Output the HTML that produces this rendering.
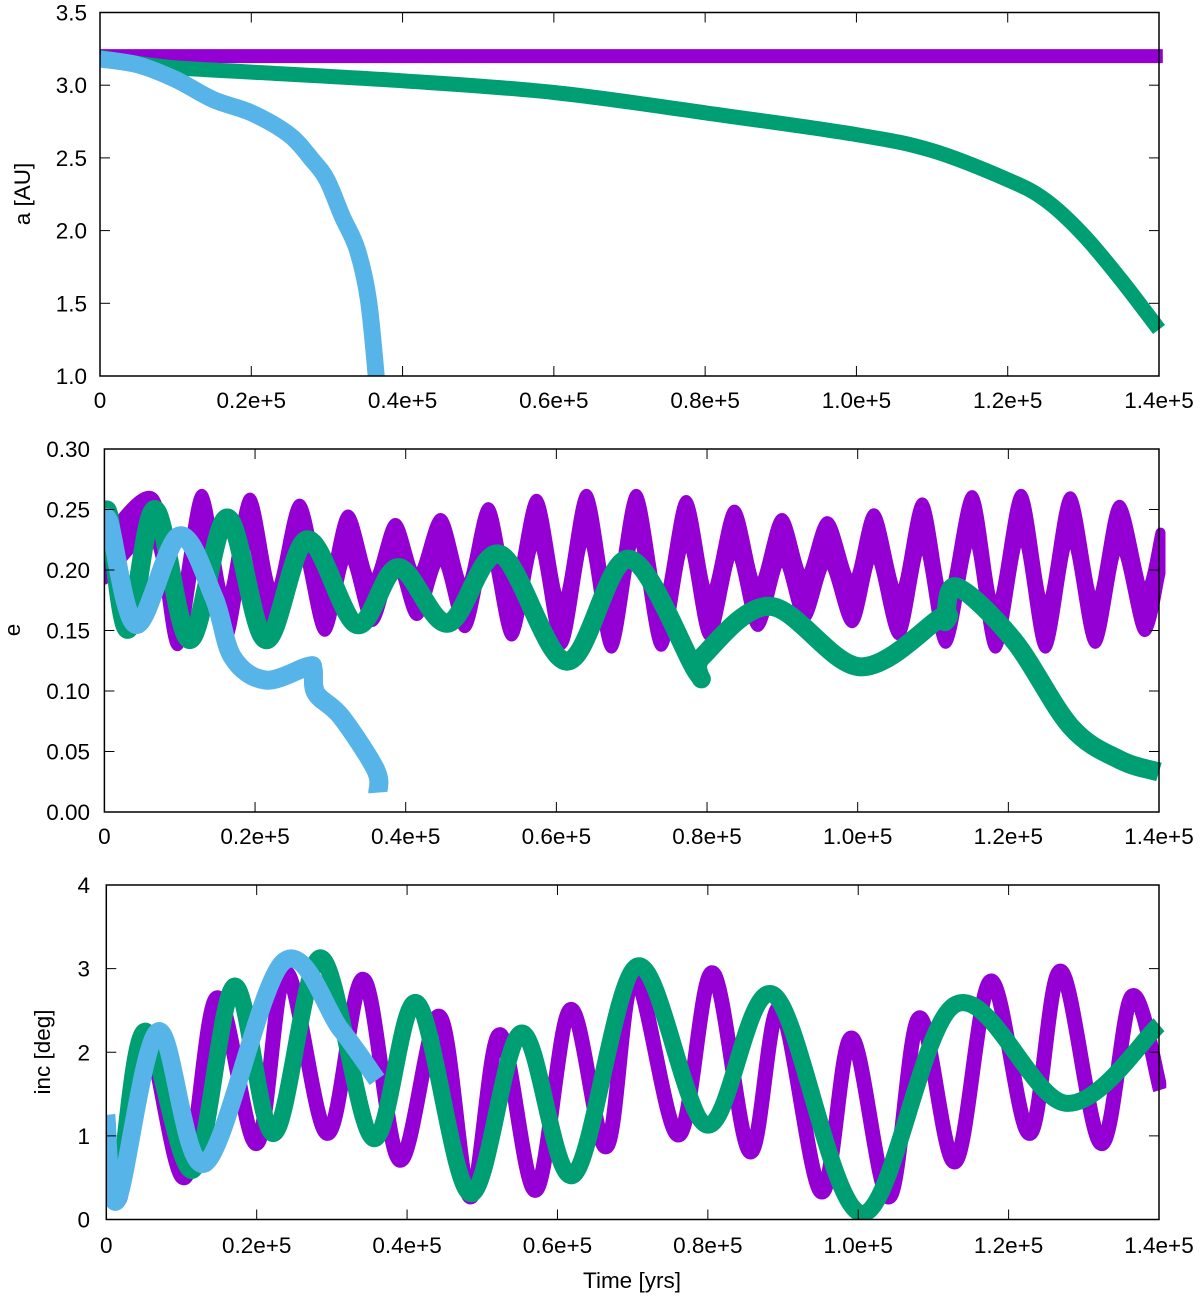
<!DOCTYPE html>
<html><head><meta charset="utf-8">
<style>
html,body{margin:0;padding:0;background:#fff;}
svg{display:block;}
text{font-family:"Liberation Sans",Arial,sans-serif;font-size:22.5px;fill:#000;}
</style></head>
<body>
<svg id="chart" width="1200" height="1298" viewBox="0 0 1200 1298" xmlns="http://www.w3.org/2000/svg">
<defs>
<clipPath id="clip1"><rect x="100" y="0" width="1068" height="376"/></clipPath>
<clipPath id="clip2"><rect x="104.4" y="449" width="1062" height="363"/></clipPath>
<clipPath id="clip3"><rect x="106.3" y="885" width="1060" height="334.5"/></clipPath>
</defs>
<g id="layer"></g>
</svg>
<script>
// ---------- Data (time in kyr) ----------
const xTickValues = [0, 20, 40, 60, 80, 100, 120, 140];
const xTickLabels = ["0", "0.2e+5", "0.4e+5", "0.6e+5", "0.8e+5", "1.0e+5", "1.2e+5", "1.4e+5"];
const aTickValues = [1.0, 1.5, 2.0, 2.5, 3.0, 3.5];
const aTickLabels = ["1.0", "1.5", "2.0", "2.5", "3.0", "3.5"];
const eTickValues = [0, 0.05, 0.10, 0.15, 0.20, 0.25, 0.30];
const eTickLabels = ["0.00", "0.05", "0.10", "0.15", "0.20", "0.25", "0.30"];
const iTickValues = [0, 1, 2, 3, 4];
const iTickLabels = ["0", "1", "2", "3", "4"];

const aPurpleT = [0, 35, 70, 105, 140.5];
const aPurpleV = [3.2, 3.2, 3.2, 3.2, 3.2];
const aGreenT = [0, 5, 10, 20, 40, 60, 80, 100, 110, 120, 125, 130, 135, 140];
const aGreenV = [3.19, 3.15, 3.12, 3.09, 3.03, 2.95, 2.81, 2.66, 2.55, 2.35, 2.21, 1.97, 1.66, 1.32];
const aBlueT = [0, 5, 10, 15, 20, 25, 28, 30, 32, 34, 35.5, 36.6];
const aBlueV = [3.18, 3.14, 3.04, 2.9, 2.81, 2.66, 2.49, 2.35, 2.1, 1.87, 1.52, 0.95];

// purple e: upper envelope of the band
const ePurpleT = [0, 6.5, 9.7, 12.9, 16.1, 19.3, 22.5, 25.9, 29.2, 32.3, 35.5, 38.6, 41.5, 44.7, 47.9, 51, 54.1, 57.4, 60.7, 64, 67.3, 70.6, 73.9, 77.2, 80.3, 83.6, 86.7, 89.9, 92.9, 96, 99.3, 102.2, 105.5, 108.6, 111.7, 115.2, 118.3, 121.7, 124.9, 128.2, 131.5, 134.7, 138, 140.2];
const ePurpleV = [0.23, 0.264, 0.175, 0.267, 0.18, 0.264, 0.185, 0.259, 0.187, 0.25, 0.195, 0.243, 0.2, 0.247, 0.19, 0.256, 0.183, 0.263, 0.176, 0.267, 0.173, 0.267, 0.1745, 0.262, 0.183, 0.254, 0.191, 0.247, 0.198, 0.2445, 0.194, 0.251, 0.184, 0.26, 0.177, 0.266, 0.173, 0.267, 0.173, 0.265, 0.177, 0.258, 0.187, 0.235];
const eGreenT = [0, 0.6, 3.1, 6.7, 11.3, 16.3, 21.4, 26.9, 33.5, 39, 45.6, 52.5, 61.4, 69.6, 78.7, 79.3, 88.4, 100.3, 111.2, 111.6, 113.1, 120.7, 128.3, 134.9, 140];
const eGreenV = [0.235, 0.245, 0.151, 0.25, 0.1425, 0.243, 0.1425, 0.225, 0.155, 0.202, 0.156, 0.213, 0.1246, 0.209, 0.115, 0.128, 0.17, 0.12, 0.1616, 0.158, 0.186, 0.142, 0.0704, 0.0428, 0.0331];
const eBlueT = [0, 0.6, 4.2, 9.9, 14.5, 17, 21.4, 26.9, 27.7, 28.1, 31.4, 36, 36.3];
const eBlueV = [0.225, 0.24, 0.155, 0.228, 0.178, 0.128, 0.109, 0.12, 0.118, 0.098, 0.079, 0.035, 0.016];

const iPurpleT = [0, 1.8, 5.1, 10.4, 14.7, 20, 23.9, 29.4, 34.2, 39, 44.3, 48.4, 52.3, 57.1, 61.7, 66.5, 70.2, 76.1, 80.6, 85.6, 89.6, 95.1, 99.1, 104.1, 108.1, 112.9, 117.6, 122.8, 126.9, 132.3, 136.4, 140.2];
const iPurpleV = [1.2, 0.25, 2.25, 0.5, 2.65, 0.91, 2.95, 1.03, 2.87, 0.71, 2.43, 0.27, 2.21, 0.35, 2.51, 0.87, 2.9, 1.01, 2.95, 0.81, 2.53, 0.33, 2.17, 0.27, 2.41, 0.69, 2.85, 1.03, 2.97, 0.91, 2.67, 1.55];
const iGreenT = [0, 1.45, 5.1, 11.5, 17, 22.3, 28.5, 35.5, 41.3, 48.4, 55.2, 62.1, 70.6, 79.9, 88.7, 100.5, 112.9, 127.6, 140];
const iGreenV = [1.1, 0.3, 2.25, 0.59, 2.79, 1.03, 3.13, 0.97, 2.59, 0.31, 2.23, 0.53, 3.03, 1.13, 2.69, 0.07, 2.57, 1.39, 2.33];
const iBlueT = [0, 1.45, 6.9, 13.1, 23.4, 31.2, 36];
const iBlueV = [1.25, 0.23, 2.25, 0.67, 3.07, 2.27, 1.67];

// ---------- Rendering ----------
const NS = "http://www.w3.org/2000/svg";
const layer = document.getElementById("layer");
const COL = {purple: "#9400d3", green: "#009e73", blue: "#56b4e9"};
const panels = [
  {id: 1, L: 100, R: 1159, T: 12.5, B: 376, ymin: 1, ymax: 3.5, labY: 400, ticks: aTickValues, labels: aTickLabels, labX: 87},
  {id: 2, L: 104.4, R: 1159, T: 449, B: 812, ymin: 0, ymax: 0.3, labY: 836, ticks: eTickValues, labels: eTickLabels, labX: 90},
  {id: 3, L: 106.3, R: 1159, T: 885, B: 1219.5, ymin: 0, ymax: 4, labY: 1245, ticks: iTickValues, labels: iTickLabels, labX: 90}
];
function xs(p, t) { return p.L + (t / 140) * (p.R - p.L); }
function ys(p, v) { return p.B - (v - p.ymin) / (p.ymax - p.ymin) * (p.B - p.T); }
function mk(tag, attrs) { const e = document.createElementNS(NS, tag); for (const k in attrs) e.setAttribute(k, attrs[k]); return e; }
function crPath(pts, move) {
  let d = move ? "M" + pts[0][0].toFixed(1) + "," + pts[0][1].toFixed(1) : "L" + pts[0][0].toFixed(1) + "," + pts[0][1].toFixed(1);
  for (let i = 0; i < pts.length - 1; i++) {
    const p0 = pts[Math.max(0, i - 1)], p1 = pts[i], p2 = pts[i + 1], p3 = pts[Math.min(pts.length - 1, i + 2)];
    const c1x = p1[0] + (p2[0] - p0[0]) / 6, c1y = p1[1] + (p2[1] - p0[1]) / 6;
    const c2x = p2[0] - (p3[0] - p1[0]) / 6, c2y = p2[1] - (p3[1] - p1[1]) / 6;
    d += " C" + c1x.toFixed(1) + "," + c1y.toFixed(1) + " " + c2x.toFixed(1) + "," + c2y.toFixed(1) + " " + p2[0].toFixed(1) + "," + p2[1].toFixed(1);
  }
  return d;
}
function series(p, T, V, color, w, name) {
  const pts = T.map((t, i) => [xs(p, t), ys(p, V[i])]);
  const path = mk("path", {d: crPath(pts, true), fill: "none", stroke: color, "stroke-width": w, "stroke-linejoin": "round", "stroke-linecap": "butt", "clip-path": "url(#clip" + p.id + ")"});
  
  
  layer.appendChild(path);
}
function band(p, T, V, off, color, name) {
  const up = T.map((t, i) => [xs(p, t), ys(p, V[i]) + 5]);
  const lo = T.map((t, i) => [xs(p, t), ys(p, V[i] - off)]).reverse();
  const d = crPath(up, true) + " " + crPath(lo, false) + " Z";
  const path = mk("path", {d: d, fill: color, stroke: color, "stroke-width": 10, "stroke-linejoin": "round", "clip-path": "url(#clip" + p.id + ")"});
  
  
  layer.appendChild(path);
}
function axes(p) {
  const g = mk("g", {});
  
  
  const frame = mk("rect", {x: p.L, y: p.T, width: p.R - p.L, height: p.B - p.T, fill: "none", stroke: "#000", "stroke-width": 1.5});
  
  
  g.appendChild(frame);
  xTickValues.forEach((t, i) => {
    const x = xs(p, t);
    if (i > 0 && i < xTickValues.length - 1) {
      g.appendChild(mk("line", {x1: x, x2: x, y1: p.B, y2: p.B - 10, stroke: "#000", "stroke-width": 1}));
      g.appendChild(mk("line", {x1: x, x2: x, y1: p.T, y2: p.T + 10, stroke: "#000", "stroke-width": 1}));
    }
    const tx = mk("text", {x: x, y: p.labY + 8, "text-anchor": "middle"});
    tx.textContent = xTickLabels[i];
    
    
    g.appendChild(tx);
  });
  p.ticks.forEach((v, i) => {
    const y = ys(p, v);
    if (i > 0 && i < p.ticks.length - 1) {
      g.appendChild(mk("line", {x1: p.L, x2: p.L + 10, y1: y, y2: y, stroke: "#000", "stroke-width": 1}));
      g.appendChild(mk("line", {x1: p.R, x2: p.R - 10, y1: y, y2: y, stroke: "#000", "stroke-width": 1}));
    }
    const ty = mk("text", {x: p.labX, y: y + 8, "text-anchor": "end"});
    ty.textContent = p.labels[i];
    
    
    g.appendChild(ty);
  });
  layer.appendChild(g);
}
const P1 = panels[0], P2 = panels[1], P3 = panels[2];
series(P1, aPurpleT, aPurpleV, COL.purple, 14, "a-purple-series");
series(P1, aGreenT, aGreenV, COL.green, 15, "a-green-series");
series(P1, aBlueT, aBlueV, COL.blue, 17, "a-blue-series");
band(P2, ePurpleT, ePurpleV, 0.038, COL.purple, "e-purple-series");
series(P2, eGreenT, eGreenV, COL.green, 19, "e-green-series");
series(P2, eBlueT, eBlueV, COL.blue, 19, "e-blue-series");
series(P3, iPurpleT, iPurpleV, COL.purple, 15, "inc-purple-series");
series(P3, iGreenT, iGreenV, COL.green, 17, "inc-green-series");
series(P3, iBlueT, iBlueV, COL.blue, 18, "inc-blue-series");
panels.forEach(axes);

function title(txt, x, y, rot, name) {
  const t = mk("text", {x: x, y: y, "text-anchor": "middle"});
  if (rot) t.setAttribute("transform", "rotate(-90 " + x + " " + y + ")");
  t.textContent = txt;
  
  
  layer.appendChild(t);
}
title("a [AU]", 30, 194, true, "y-axis-title-a");
title("e", 20, 630, true, "y-axis-title-e");
title("inc [deg]", 50, 1052, true, "y-axis-title-inc");
title("Time [yrs]", 632, 1288, false, "x-axis-title");
</script>
</body></html>
